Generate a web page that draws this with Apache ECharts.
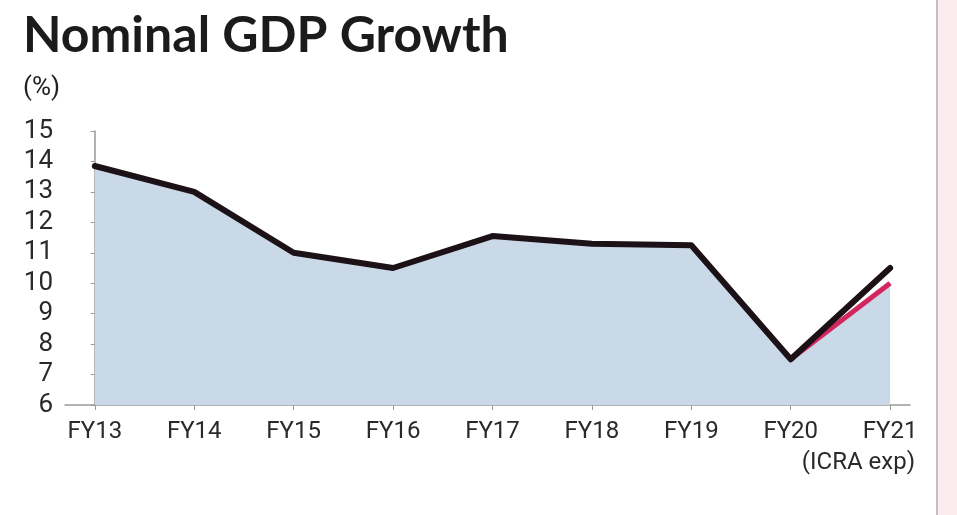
<!DOCTYPE html>
<html>
<head>
<meta charset="utf-8">
<script src="https://cdn.jsdelivr.net/npm/echarts@6/dist/echarts.min.js"></script>
<style>
  html, body { margin: 0; padding: 0; background: #fff; }
  #content { width: 957px; height: 515px; }
</style>
</head>
<body>
<div id="content"></div>
<script>
// data
var categories = ["FY13", "FY14", "FY15", "FY16", "FY17", "FY18", "FY19", "FY20", "FY21"];
var gdpGrowth = [13.85, 13.0, 11.0, 10.5, 11.55, 11.3, 11.25, 7.5, 10.5];
var icraExp = [null, null, null, null, null, null, null, 7.5, 10.0];
var areaValues = [13.85, 13.0, 11.0, 10.5, 11.55, 11.3, 11.25, 7.5, 10.0];
var yTicks = [6, 7, 8, 9, 10, 11, 12, 13, 14, 15];

function toPairs(arr) {
  return arr.map(function (v, i) { return [i, v]; });
}

var chartDom = document.getElementById("content");
var myChart = echarts.init(chartDom);

var option = {
  animation: false,
  backgroundColor: "#fff",
  title: {
    text: "Nominal GDP Growth",
    subtext: "(%)",
    left: 18,
    top: 6,
    itemGap: 14,
    textStyle: {
      fontFamily: "Lato",
      fontWeight: "bold",
      fontSize: 50,
      color: "#1b1b1b",
    },
    subtextStyle: {
      fontFamily: "Roboto",
      fontSize: 26,
      color: "#222",
    },
  },
  grid: {
    left: 65,
    right: 47,
    top: 131,
    bottom: 110,
  },
  xAxis: {
    type: "value",
    min: -0.3,
    max: 8.2,
    splitLine: { show: false },
    axisLine: { show: true, lineStyle: { color: "#999", width: 1.5 } },
    axisTick: {
      show: true,
      customValues: categories.map(function (c, i) { return i; }),
      length: 5,
      lineStyle: { color: "#999" },
    },
    axisLabel: {
      customValues: categories.map(function (c, i) { return i; }),
      formatter: function (v) { return categories[Math.round(v)]; },
      fontFamily: "Roboto",
      fontSize: 24,
      color: "#2a2a2a",
      margin: 15,
    },
  },
  yAxis: {
    type: "value",
    min: 6,
    max: 15,
    interval: 1,
    splitLine: { show: false },
    axisLine: { show: true, lineStyle: { color: "#999", width: 1.5 } },
    axisTick: { show: true, length: 4, lineStyle: { color: "#999" } },
    axisLabel: {
      fontFamily: "Roboto",
      fontSize: 26,
      color: "#2a2a2a",
      margin: 12,
      customValues: yTicks,
    },
  },
  graphic: [
    {
      type: "rect",
      right: 0,
      top: 0,
      shape: { width: 19, height: 515 },
      style: { fill: "#fcecef" },
      z: 0,
    },
    {
      type: "rect",
      right: 19,
      top: 0,
      shape: { width: 2, height: 515 },
      style: { fill: "#c4c0c1" },
      z: 0,
    },
    {
      type: "text",
      right: 42,
      top: 451,
      style: {
        text: "(ICRA exp)",
        fontFamily: "Roboto",
        fontSize: 24,
        fill: "#2a2a2a",
      },
    },
  ],
  series: [
    {
      name: "area",
      type: "line",
      data: toPairs(areaValues),
      symbol: "none",
      lineStyle: { width: 0 },
      areaStyle: { color: "#c9d9e8", opacity: 1 },
      z: 1,
    },
    {
      name: "ICRA exp",
      type: "line",
      data: toPairs(icraExp),
      symbol: "none",
      lineStyle: { color: "#d2275e", width: 5 },
      z: 2,
    },
    {
      name: "Nominal GDP Growth",
      type: "line",
      data: toPairs(gdpGrowth),
      symbol: "none",
      lineStyle: { color: "#1c1116", width: 6, join: "round", cap: "round" },
      z: 3,
    },
  ],
};

myChart.setOption(option);
</script>
</body>
</html>
